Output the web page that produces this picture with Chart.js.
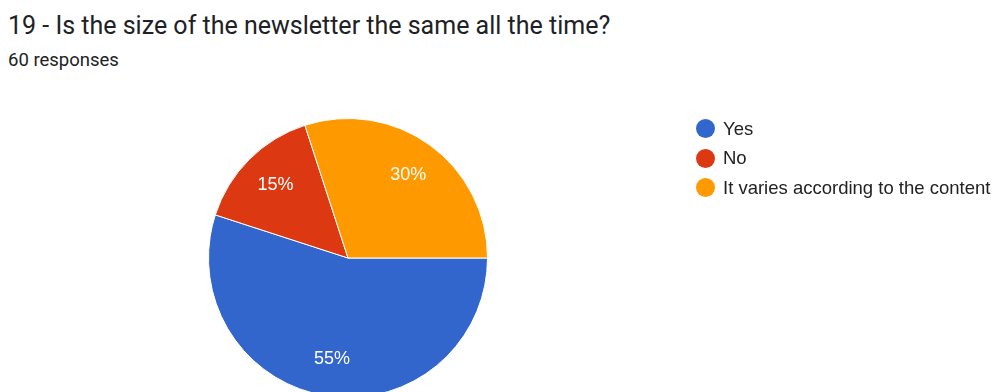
<!DOCTYPE html>
<html>
<head>
<meta charset="utf-8">
<script src="https://cdn.jsdelivr.net/npm/chart.js@4/dist/chart.umd.min.js"></script>
<style>
  html, body { margin: 0; padding: 0; background: #fff; }
  body { width: 997px; height: 392px; overflow: hidden; position: relative; }
  #title { position: absolute; left: 8px; top: 11px; font: 25px Roboto, sans-serif; line-height: 30px; color: #202124; white-space: nowrap; }
  #subtitle { position: absolute; left: 8px; top: 49px; font: 18.5px Roboto, sans-serif; line-height: 22px; color: #202124; }
  #chartBox { position: absolute; left: 0; top: 0; width: 997px; height: 400px; }
  #legend { position: absolute; left: 696px; top: 114px; font: 18.5px "Liberation Sans", Arial, sans-serif; color: #222; }
  #legend .row { display: flex; align-items: center; height: 29.5px; white-space: nowrap; }
  #legend .dot { width: 19px; height: 19px; border-radius: 50%; margin-right: 8px; }
</style>
</head>
<body>
<div id="title">19 - Is the size of the newsletter the same all the time?</div>
<div id="subtitle">60 responses</div>
<div id="chartBox"><canvas id="pieChart"></canvas></div>
<div id="legend"></div>
<script>
// answers and how many people picked each one
const answers = ['Yes', 'No', 'It varies according to the content'];
const counts = [33, 9, 18];
const sliceColors = ['#3366cc', '#dc3912', '#ff9900'];

const total = counts.reduce((a, b) => a + b, 0);

// percentage text inside each slice
const sliceLabels = {
    id: 'sliceLabels',
    afterDatasetsDraw(chart) {
        const ctx = chart.ctx;
        const meta = chart.getDatasetMeta(0);
        ctx.save();
        ctx.font = '18px "Liberation Sans", Arial, sans-serif';
        ctx.fillStyle = '#ffffff';
        ctx.textAlign = 'center';
        ctx.textBaseline = 'middle';
        meta.data.forEach((arc, i) => {
            const p = arc.getProps(['x', 'y', 'startAngle', 'endAngle', 'outerRadius'], true);
            const mid = (p.startAngle + p.endAngle) / 2;
            const r = p.outerRadius * 0.735;
            const pct = Math.round(counts[i] / total * 100) + '%';
            ctx.fillText(pct, p.x + Math.cos(mid) * r, p.y + Math.sin(mid) * r);
        });
        ctx.restore();
    }
};

const chart = new Chart(document.getElementById('pieChart'), {
    type: 'pie',
    data: {
        labels: answers,
        datasets: [{
            data: counts,
            backgroundColor: sliceColors,
            borderColor: '#ffffff',
            borderWidth: 1
        }]
    },
    options: {
        responsive: true,
        maintainAspectRatio: false,
        animation: false,
        rotation: 90,
        layout: { padding: { left: 208, top: 118, right: 509, bottom: 2 } },
        plugins: {
            legend: { display: false },
            tooltip: { enabled: false }
        }
    },
    plugins: [sliceLabels]
});

// legend rows built from the chart's own labels
function renderLegend() {
    const box = document.getElementById('legend');
    const items = chart.options.plugins.legend.labels.generateLabels(chart);
    box.innerHTML = items.map(it => `
        <div class="row"><span class="dot" style="background:${it.fillStyle}"></span>${it.text}</div>
    `).join('');
}
renderLegend();
</script>
</body>
</html>
